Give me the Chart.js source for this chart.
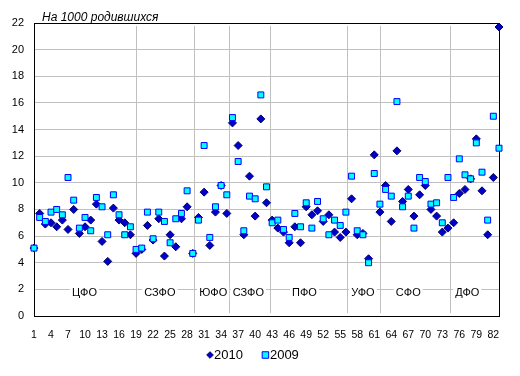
<!DOCTYPE html>
<html>
<head>
<meta charset="utf-8">
<script src="https://cdn.jsdelivr.net/npm/chart.js@4.4.1/dist/chart.umd.min.js"></script>
<style>
  html, body { margin: 0; padding: 0; background: #fff; }
  #wrap { width: 520px; height: 376px; }
</style>
</head>
<body>
<div id="wrap"><canvas id="chart"></canvas></div>
<script>
// region numbers 1..83 (categories on the x axis)
const regions = Array.from({ length: 83 }, (_, i) => i + 1);

const values2010 = [
  5.1, 7.7, 6.9, 7.0, 6.7, 7.2, 6.5, 8.0, 6.2, 6.7,
  7.2, 8.4, 5.6, 4.1, 8.1, 7.2, 7.0, 6.1, 4.7, 5.0,
  6.8, 5.7, 7.3, 4.5, 6.1, 5.2, 7.3, 8.2, 4.7, 7.4,
  9.3, 5.3, 7.8, 9.8, 7.7, 14.5, 12.8, 6.1, 10.5, 7.5,
  14.8, 8.5, 7.2, 6.6, 6.3, 5.5, 6.7, 5.5, 8.2, 7.6,
  7.9, 7.1, 7.6, 6.3, 5.9, 6.3, 8.8, 6.1, 6.2, 4.3,
  12.1, 7.8, 9.8, 7.1, 12.4, 8.6, 9.5, 7.5, 9.1, 9.8,
  8.0, 7.5, 6.3, 6.6, 7.0, 9.2, 9.5, 10.3, 13.3, 9.4,
  6.1, 10.4, 21.7
];

const values2009 = [
  5.1, 7.4, 7.1, 7.8, 8.0, 7.6, 10.4, 8.7, 6.6, 7.4,
  6.4, 8.9, 8.2, 6.1, 9.1, 7.6, 6.1, 6.7, 5.0, 5.1,
  7.8, 5.8, 7.8, 7.1, 5.5, 7.3, 7.7, 9.4, 4.7, 7.2,
  12.8, 5.9, 8.2, 9.8, 9.1, 14.9, 11.6, 6.4, 9.0, 8.8,
  16.6, 9.7, 7.0, 7.2, 6.5, 5.9, 7.7, 6.7, 8.5, 6.6,
  8.6, 7.3, 6.1, 7.2, 6.8, 7.8, 10.5, 6.4, 6.1, 4.0,
  10.7, 8.4, 9.5, 9.0, 16.1, 8.2, 9.0, 6.6, 10.4, 10.1,
  8.4, 8.5, 7.0, 10.4, 8.9, 11.8, 10.6, 10.3, 13.0, 10.8,
  7.2, 15.0, 12.6
];

const xTickLabels = [1, 4, 7, 10, 13, 16, 19, 22, 25, 28, 31, 34, 37, 40, 43, 46, 49, 52, 55, 58, 61, 64, 67, 70, 73, 76, 79, 82];

// federal districts: names, label positions (region number) and separators
const districtNames = ['ЦФО', 'СЗФО', 'ЮФО', 'СЗФО', 'ПФО', 'УФО', 'СФО', 'ДФО'];
const districtLabelAt = [9.9, 23.2, 32.6, 38.8, 48.7, 59.0, 67.0, 77.4];
const districtLabelY = 1.75;
const districtBorders = [18.9, 29.2, 35.4, 42.6, 56.2, 62.1, 74.4];

const chartTitle = 'На 1000 родившихся';

Chart.defaults.font.family = '"Liberation Sans", Arial, sans-serif';
Chart.defaults.color = '#000';

// frame, district separators and labels, title
const decor = {
  id: 'decor',
  beforeDatasetsDraw(chart) {
    const { ctx, chartArea: a, scales: { x, y } } = chart;
    ctx.save();
    ctx.strokeStyle = '#c0c0c0';
    ctx.lineWidth = 1;
    districtBorders.forEach(v => {
      const px = Math.round(x.getPixelForValue(v)) + 0.5;
      ctx.beginPath();
      ctx.moveTo(px, a.top + 3);
      ctx.lineTo(px, a.bottom - 3);
      ctx.stroke();
    });

    ctx.font = '11px "Liberation Sans", Arial, sans-serif';
    ctx.textAlign = 'center';
    ctx.textBaseline = 'middle';
    districtNames.forEach((name, i) => {
      const px = x.getPixelForValue(districtLabelAt[i]);
      const py = y.getPixelForValue(districtLabelY);
      const w = ctx.measureText(name).width;
      ctx.fillStyle = '#fff';
      ctx.fillRect(px - w / 2 - 2, py - 6, w + 4, 12);
      ctx.fillStyle = '#000';
      ctx.fillText(name, px, py);
    });

    ctx.strokeStyle = '#000';
    ctx.strokeRect(Math.round(a.left) + 0.5, Math.round(a.top) + 0.5,
      Math.round(a.right - a.left), Math.round(a.bottom - a.top));

    ctx.font = 'italic 12px "Liberation Sans", Arial, sans-serif';
    ctx.textAlign = 'left';
    ctx.textBaseline = 'alphabetic';
    const tw = ctx.measureText(chartTitle).width;
    ctx.fillStyle = '#fff';
    ctx.fillRect(a.left + 6, a.top - 12, tw + 4, 12);
    ctx.fillStyle = '#000';
    ctx.fillText(chartTitle, a.left + 8, a.top - 2);
    ctx.restore();
  },
  // legend like the Excel one: marker glued to the text
  afterDraw(chart) {
    const { ctx } = chart;
    ctx.save();
    ctx.font = '13px "Liberation Sans", Arial, sans-serif';
    ctx.textAlign = 'left';
    ctx.textBaseline = 'middle';
    const legY = 355;
    let cx = 207;
    chart.data.datasets.forEach(ds => {
      const w = ds.pointStyle === 'rect' ? 7 : 6;
      ctx.fillStyle = ds.backgroundColor;
      ctx.strokeStyle = ds.borderColor;
      ctx.lineWidth = 1;
      Chart.helpers.drawPoint(ctx, {
        pointStyle: ds.pointStyle,
        radius: ds.pointStyle === 'rect' ? 4.6 : 3.3,
        borderWidth: 1
      }, cx + w / 2, legY);
      ctx.fillStyle = '#000';
      ctx.fillText(ds.label, cx + w + 1, legY);
      cx += w + 1 + ctx.measureText(ds.label).width + 19;
    });
    ctx.restore();
  }
};

const ctx = document.getElementById('chart').getContext('2d');

new Chart(ctx, {
  type: 'scatter',
  data: {
    datasets: [
      {
        label: '2010',
        data: regions.map((r, i) => ({ x: r, y: values2010[i] })),
        pointStyle: 'rectRot',
        pointRadius: 4,
        backgroundColor: '#0000cc',
        borderColor: '#000066',
        borderWidth: 1,
        order: 2,
        clip: false
      },
      {
        label: '2009',
        data: regions.map((r, i) => ({ x: r, y: values2009[i] })),
        pointStyle: 'rect',
        pointRadius: 4.2,
        backgroundColor: '#00ffff',
        borderColor: '#0000ff',
        borderWidth: 1,
        order: 1,
        clip: false
      }
    ]
  },
  options: {
    responsive: true,
    maintainAspectRatio: false,
    animation: false,
    layout: { padding: { top: 23, right: 21, left: 0, bottom: 0 } },
    plugins: {
      title: { display: false },
      tooltip: { enabled: false },
      legend: { display: false }
    },
    scales: {
      x: {
        type: 'linear',
        min: 1,
        max: 83,
        afterBuildTicks: scale => { scale.ticks = xTickLabels.map(v => ({ value: v })); },
        afterFit: scale => { scale.height = 60; },
        grid: { display: false, drawTicks: false },
        border: { display: false },
        ticks: { autoSkip: false, maxRotation: 0, padding: 13, font: { size: 10.5 } }
      },
      y: {
        min: 0,
        max: 22,
        afterFit: scale => { scale.width = 34; },
        grid: { color: '#c0c0c0', drawTicks: false },
        border: { display: false },
        ticks: { stepSize: 2, padding: 10, font: { size: 11 } }
      }
    }
  },
  plugins: [decor]
});
</script>
</body>
</html>
